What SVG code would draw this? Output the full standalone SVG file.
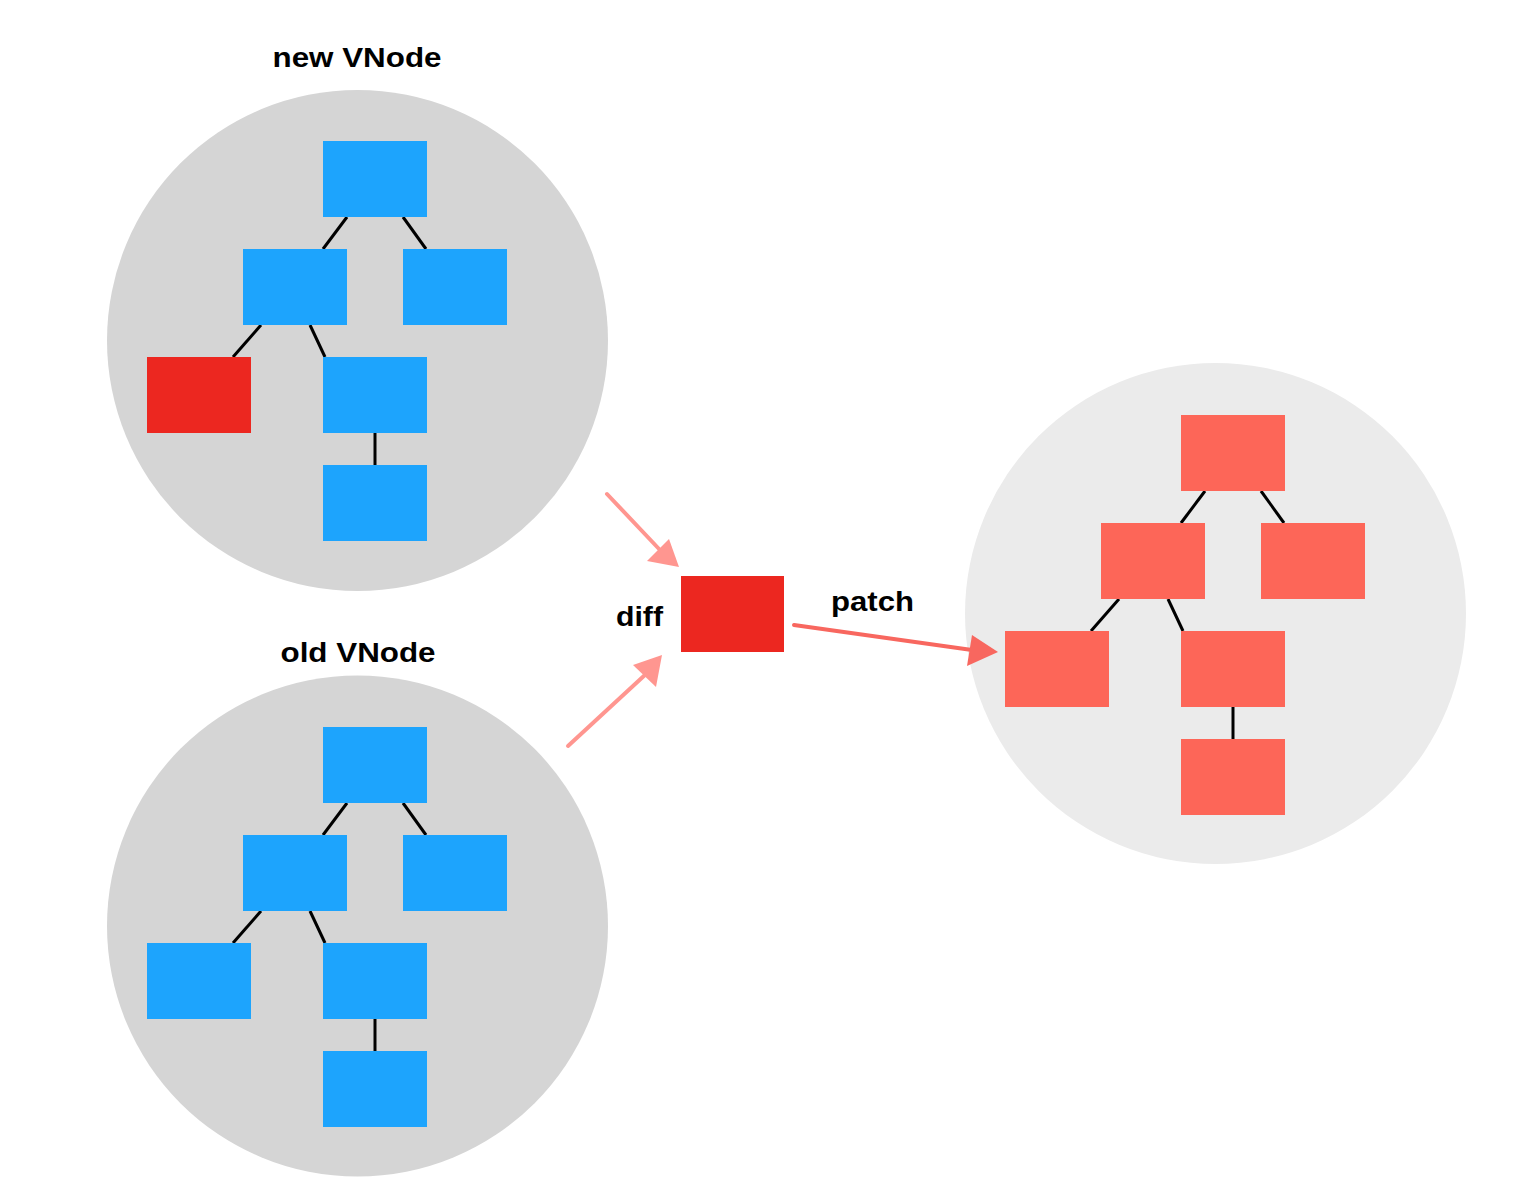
<svg xmlns="http://www.w3.org/2000/svg" width="1538" height="1194" viewBox="0 0 1538 1194">
<style>
.bg{fill:#d5d5d5}
.bg2{fill:#ebebeb}
.b{fill:#1da4fd}
.r{fill:#ec2720}
.s{fill:#fd6658}
.e{stroke:#000;stroke-width:3;fill:none}
.lbl{font-family:"Liberation Sans",Arial,sans-serif;font-weight:bold;font-size:27px;fill:#000}
.a1{stroke:#ff9690;stroke-width:4;fill:none;stroke-linecap:round}
.h1{fill:#ff9690}
.a2{stroke:#f8675f;stroke-width:4;fill:none;stroke-linecap:round}
.h2{fill:#f8675f}
</style>
<rect width="1538" height="1194" fill="#fff"/>
<g id="new-vnode">
<circle class="bg" cx="357.5" cy="340.5" r="250.5"/>
<text class="lbl" x="357" y="67" text-anchor="middle" textLength="169" lengthAdjust="spacingAndGlyphs">new VNode</text>
<g id="new-edges">
<line class="e" x1="347" y1="217" x2="323" y2="249"/>
<line class="e" x1="403" y1="217" x2="426" y2="249"/>
<line class="e" x1="261" y1="325" x2="233" y2="357"/>
<line class="e" x1="310" y1="325" x2="325" y2="357"/>
<line class="e" x1="375" y1="433" x2="375" y2="465"/>
</g>
<rect class="b" x="323" y="141" width="104" height="76"/>
<rect class="b" x="243" y="249" width="104" height="76"/>
<rect class="b" x="403" y="249" width="104" height="76"/>
<rect class="r" x="147" y="357" width="104" height="76"/>
<rect class="b" x="323" y="357" width="104" height="76"/>
<rect class="b" x="323" y="465" width="104" height="76"/>
</g>
<g id="old-vnode">
<circle class="bg" cx="357.5" cy="926" r="250.5"/>
<text class="lbl" x="358" y="662" text-anchor="middle" textLength="155" lengthAdjust="spacingAndGlyphs">old VNode</text>
<g id="old-edges">
<line class="e" x1="347" y1="803" x2="323" y2="835"/>
<line class="e" x1="403" y1="803" x2="426" y2="835"/>
<line class="e" x1="261" y1="911" x2="233" y2="943"/>
<line class="e" x1="310" y1="911" x2="325" y2="943"/>
<line class="e" x1="375" y1="1019" x2="375" y2="1051"/>
</g>
<rect class="b" x="323" y="727" width="104" height="76"/>
<rect class="b" x="243" y="835" width="104" height="76"/>
<rect class="b" x="403" y="835" width="104" height="76"/>
<rect class="b" x="147" y="943" width="104" height="76"/>
<rect class="b" x="323" y="943" width="104" height="76"/>
<rect class="b" x="323" y="1051" width="104" height="76"/>
</g>
<g id="patched">
<circle class="bg2" cx="1215.5" cy="613.5" r="250.5"/>
<g id="patched-edges">
<line class="e" x1="1205" y1="491" x2="1181" y2="523"/>
<line class="e" x1="1261" y1="491" x2="1284" y2="523"/>
<line class="e" x1="1119" y1="599" x2="1091" y2="631"/>
<line class="e" x1="1168" y1="599" x2="1183" y2="631"/>
<line class="e" x1="1233" y1="707" x2="1233" y2="739"/>
</g>
<rect class="s" x="1181" y="415" width="104" height="76"/>
<rect class="s" x="1101" y="523" width="104" height="76"/>
<rect class="s" x="1261" y="523" width="104" height="76"/>
<rect class="s" x="1005" y="631" width="104" height="76"/>
<rect class="s" x="1181" y="631" width="104" height="76"/>
<rect class="s" x="1181" y="739" width="104" height="76"/>
</g>
<g id="diff">
<rect class="r" x="681" y="576" width="103" height="76"/>
<text class="lbl" x="616" y="626" textLength="47" lengthAdjust="spacingAndGlyphs">diff</text>
</g>
<text class="lbl" x="831" y="611" textLength="83" lengthAdjust="spacingAndGlyphs">patch</text>
<g id="connectors">
<line class="a1" x1="607" y1="494" x2="660" y2="550"/>
<polygon class="h1" points="679,567 647,561 669,539"/>
<line class="a1" x1="568" y1="746" x2="646" y2="674"/>
<polygon class="h1" points="662,655 633,665 656,687"/>
<line class="a2" x1="794" y1="625" x2="972" y2="650"/>
<polygon class="h2" points="998,652 972,635 967,666"/>
</g>
</svg>
